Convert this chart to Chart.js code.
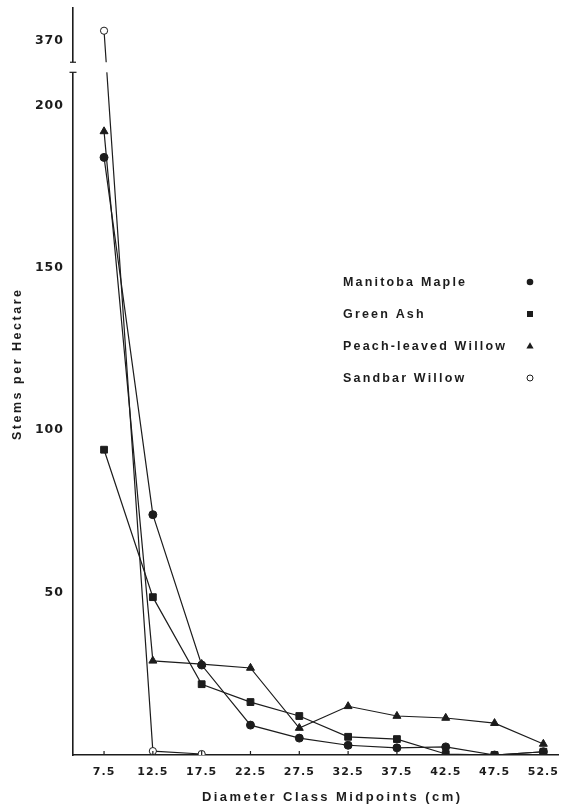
<!DOCTYPE html>
<html><head><meta charset="utf-8">
<script src="https://cdn.jsdelivr.net/npm/chart.js@4/dist/chart.umd.min.js"></script>
<style>html,body{margin:0;padding:0;background:#fff;} #wrap{width:565px;height:806px;position:relative;}</style>
</head><body><div id="wrap"><canvas id="c" width="565" height="806"></canvas></div>
<script>
// ---- data ----
const diameterClasses = [7.5, 12.5, 17.5, 22.5, 27.5, 32.5, 37.5, 42.5, 47.5, 52.5];
const manitobaMaple = [184, 74, 27.7, 9.2, 5.2, 3, 2.2, 2.5, 0, 1];
const greenAsh = [94, 48.6, 21.8, 16.3, 12, 5.6, 4.9, 0.3, 0, 1];
const peachLeavedWillow = [192, 29, 28, 26.8, 8.3, 15, 12, 11.4, 9.8, 3.4];
const sandbarWillow = [380, 1.2, 0.3, null, null, null, null, null, null, null];
const seriesNames = ["Manitoba Maple", "Green Ash", "Peach-leaved Willow", "Sandbar Willow"];
const yTickValues = [50, 100, 150, 200, 370];
const xTitle = "Diameter Class Midpoints (cm)";
const yTitle = "Stems per Hectare";

// axis break: values above the break are compressed and shifted down
const BREAK_LOW = 210, BREAK_HIGH_REAL = 370, BREAK_HIGH_DISP = 220, ABOVE_SLOPE = 0.3;
function toDisp(v) { return v == null ? null : (v > BREAK_LOW + 50 ? BREAK_HIGH_DISP + (v - BREAK_HIGH_REAL) * ABOVE_SLOPE : v); }
function toReal(d) { return d > BREAK_LOW + 5 ? (d - BREAK_HIGH_DISP) / ABOVE_SLOPE + BREAK_HIGH_REAL : d; }

const INK = '#1c1c1c';
const FONT = '"DejaVu Sans", "Liberation Sans", Arial, sans-serif';
const TFONT = '"Liberation Sans", Arial, sans-serif';

function series(vals) { return diameterClasses.map((x, i) => ({ x: x, y: toDisp(vals[i]) })).filter(p => p.y != null); }

const styles = [
  { pointStyle: 'circle', radius: 4, bg: INK },
  { pointStyle: 'rect', radius: 4.8, bg: INK },
  { pointStyle: 'triangle', radius: 4.6, bg: INK },
  { pointStyle: 'circle', radius: 3.6, bg: '#ffffff' }
];
const allSeries = [manitobaMaple, greenAsh, peachLeavedWillow, sandbarWillow];

const datasets = allSeries.map((vals, i) => ({
  label: seriesNames[i],
  data: series(vals),
  borderColor: INK,
  borderWidth: 1.2,
  backgroundColor: styles[i].bg,
  pointBackgroundColor: styles[i].bg,
  pointBorderColor: INK,
  pointBorderWidth: 1,
  pointStyle: styles[i].pointStyle,
  pointRadius: styles[i].radius,
  pointHoverRadius: styles[i].radius,
  tension: 0,
  spanGaps: false
}));

function fitText(ctx, text, targetW) {
  ctx.letterSpacing = '0px';
  const w = ctx.measureText(text).width;
  return Math.max(0, (targetW - w) / (text.length - 1));
}

const extras = {
  id: 'extras',
  beforeDraw(chart) { chart.ctx.letterSpacing = '1px'; },
  afterDraw(chart) {
    const ctx = chart.ctx;
    const xs = chart.scales.x, ys = chart.scales.y;
    const axisX = chart.chartArea.left, axisY = chart.chartArea.bottom;
    ctx.save();
    // inward x ticks
    ctx.strokeStyle = INK; ctx.lineWidth = 1.2;
    diameterClasses.forEach(v => {
      const px = xs.getPixelForValue(v);
      ctx.beginPath(); ctx.moveTo(px, axisY); ctx.lineTo(px, axisY - 4); ctx.stroke();
    });
    // axis break
    const yTop = ys.getPixelForValue(213.3), yBot = ys.getPixelForValue(210.2);
    ctx.fillStyle = '#ffffff';
    ctx.fillRect(axisX - 6, yTop, 60, yBot - yTop);
    ctx.strokeStyle = INK; ctx.lineWidth = 1.2;
    ctx.beginPath(); ctx.moveTo(axisX - 3, yTop); ctx.lineTo(axisX + 3, yTop); ctx.stroke();
    ctx.beginPath(); ctx.moveTo(axisX - 3.5, yBot); ctx.lineTo(axisX + 3.5, yBot); ctx.stroke();
    // titles
    ctx.fillStyle = INK;
    ctx.textAlign = 'center'; ctx.textBaseline = 'middle';
    ctx.font = 'bold 13px ' + TFONT;
    let sp = fitText(ctx, xTitle, 258);
    ctx.letterSpacing = sp + 'px';
    ctx.fillText(xTitle, 331 + sp / 2, 797);
    ctx.save();
    ctx.translate(18, 365); ctx.rotate(-Math.PI / 2);
    ctx.font = 'bold 12.5px ' + TFONT;
    sp = fitText(ctx, yTitle, 150);
    ctx.letterSpacing = sp + 'px';
    ctx.fillText(yTitle, sp / 2, 0);
    ctx.restore();
    // legend
    const legY = [283, 315, 347, 379];
    ctx.font = 'bold 12.5px ' + TFONT;
    sp = fitText(ctx, seriesNames[0], 122);
    ctx.letterSpacing = sp + 'px';
    ctx.textAlign = 'left';
    seriesNames.forEach((n, i) => {
      ctx.fillStyle = INK;
      ctx.fillText(n, 343, legY[i]);
      const mx = 530, my = legY[i] - 1;
      ctx.beginPath();
      if (i === 0) { ctx.arc(mx, my, 3.3, 0, Math.PI * 2); ctx.fill(); }
      else if (i === 1) { ctx.fillRect(mx - 3, my - 3, 6, 6); }
      else if (i === 2) { ctx.moveTo(mx, my - 3.8); ctx.lineTo(mx + 3.6, my + 2.6); ctx.lineTo(mx - 3.6, my + 2.6); ctx.closePath(); ctx.fill(); }
      else { ctx.fillStyle = '#fff'; ctx.arc(mx, my, 3, 0, Math.PI * 2); ctx.fill(); ctx.lineWidth = 1; ctx.stroke(); }
    });
    ctx.restore();
  }
};

new Chart(document.getElementById('c'), {
  type: 'line',
  data: { datasets },
  options: {
    responsive: false,
    animation: false,
    devicePixelRatio: 1,
    layout: { padding: { top: 8, right: 7, left: 0, bottom: 0 } },
    plugins: { legend: { display: false }, tooltip: { enabled: false } },
    scales: {
      x: {
        type: 'linear', min: 4.32, max: 54.0,
        afterBuildTicks(s) { s.ticks = diameterClasses.map(v => ({ value: v })); },
        afterFit(s) { s.height = 51; s.paddingLeft = 0; s.paddingRight = 0; },
        grid: { display: true, drawOnChartArea: false, drawTicks: false },
        border: { display: true, color: INK, width: 1.6 },
        ticks: { color: INK, padding: 11, maxRotation: 0, autoSkip: false,
          font: { family: FONT, size: 11, weight: 'bold' },
          callback: v => String(v) }
      },
      y: {
        type: 'linear', min: 0, max: 230,
        afterBuildTicks(s) { s.ticks = yTickValues.map(v => ({ value: toDisp(v) })); },
        afterFit(s) { s.width = 73; s.paddingTop = 0; s.paddingBottom = 0; },
        grid: { display: true, drawOnChartArea: false, drawTicks: false },
        border: { display: true, color: INK, width: 1.6 },
        ticks: { color: INK, padding: 9, autoSkip: false,
          font: { family: FONT, size: 12.5, weight: 'bold' },
          callback: v => String(Math.round(toReal(v))) }
      }
    }
  },
  plugins: [extras]
});
</script>
</body></html>
